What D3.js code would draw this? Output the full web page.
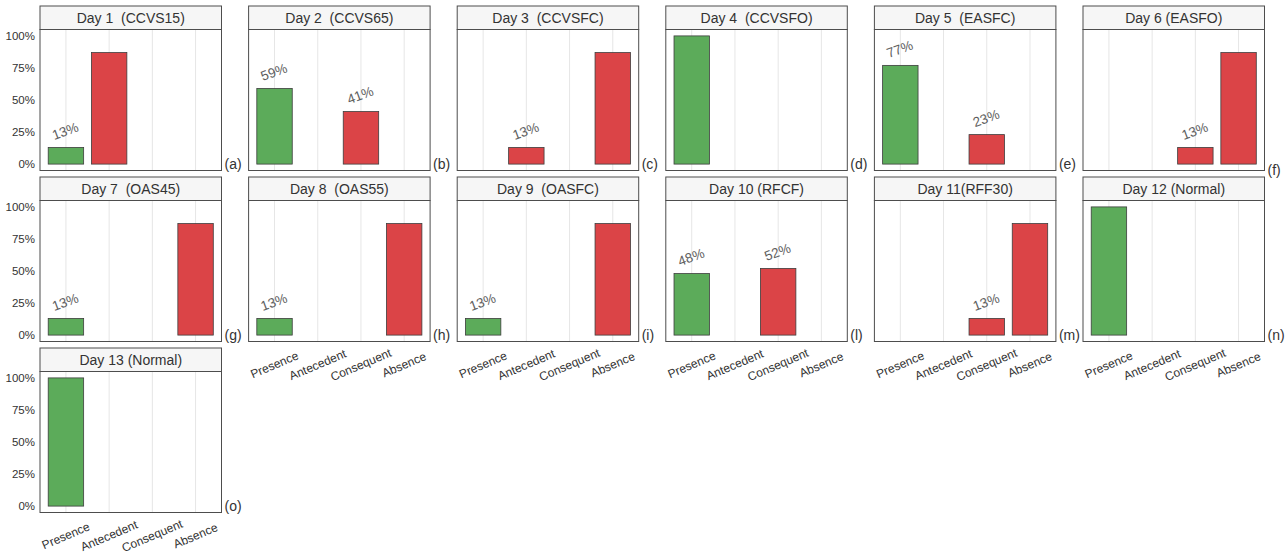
<!DOCTYPE html>
<html>
<head>
<meta charset="utf-8">
<script src="https://cdn.jsdelivr.net/npm/d3@7"></script>
<style>
  html, body { margin: 0; padding: 0; background: #fff; }
  svg { display: block; font-family: "Liberation Sans", Arial, sans-serif; }
</style>
</head>
<body>
<svg id="chart" width="1288" height="555"></svg>
<script>
// ---- data ----
const categories = ["Presence", "Antecedent", "Consequent", "Absence"];
const panelTitles = [
  "Day 1  (CCVS15)", "Day 2  (CCVS65)", "Day 3  (CCVSFC)", "Day 4  (CCVSFO)",
  "Day 5  (EASFC)", "Day 6 (EASFO)", "Day 7  (OAS45)", "Day 8  (OAS55)",
  "Day 9  (OASFC)", "Day 10 (RFCF)", "Day 11(RFF30)", "Day 12 (Normal)", "Day 13 (Normal)"
];
const panelTags = ["(a)","(b)","(c)","(d)","(e)","(f)","(g)","(h)","(i)","(l)","(m)","(n)","(o)"];
// percentages per category: Presence, Antecedent, Consequent, Absence
const presence   = [13, 59, 0, 100, 77, 0, 13, 13, 13, 48, 0, 100, 100];
const antecedent = [87, 0, 13, 0, 0, 0, 0, 0, 0, 0, 0, 0, 0];
const consequent = [0, 41, 0, 0, 23, 13, 0, 0, 0, 52, 13, 0, 0];
const absence    = [0, 0, 87, 0, 0, 87, 87, 87, 87, 0, 87, 0, 0];
// which bars carry a percentage label (per day, per category)
const labelled = [
  [1,0,0,0],[1,0,1,0],[0,1,0,0],[0,0,0,0],[1,0,1,0],[0,0,1,0],[1,0,0,0],
  [1,0,0,0],[1,0,0,0],[1,0,1,0],[0,0,1,0],[0,0,0,0],[0,0,0,0]
];
const yTicks = [0, 25, 50, 75, 100];
const yTickLabels = ["0%", "25%", "50%", "75%", "100%"];

// ---- layout ----
const nCols = 6;
const x0 = 40, colPitch = 208.6, panelW = 181.5;
const y0 = 6, rowPitch = 171, stripH = 23.5, plotH = 141;
const green = "#5cab5a", red = "#db4447";

const svg = d3.select("#chart");
const series = [presence, antecedent, consequent, absence];
const nPanels = panelTitles.length;

for (let i = 0; i < nPanels; i++) {
  const col = i % nCols, row = Math.floor(i / nCols);
  const left = x0 + col * colPitch;
  const top = y0 + row * rowPitch;
  const plotTop = top + stripH;
  const plotBottom = plotTop + plotH;

  const x = d3.scalePoint().domain(categories).range([left, left + panelW]).padding(0.6);
  const y = d3.scaleLinear().domain([-5, 105]).range([plotBottom, plotTop]);
  const bw = x.step() * 0.82;

  const g = svg.append("g");

  g.append("rect").attr("x", left).attr("y", plotTop).attr("width", panelW).attr("height", plotH)
    .attr("fill", "#fff");

  g.selectAll(".grid").data(categories).enter().append("line")
    .attr("x1", d => x(d)).attr("x2", d => x(d))
    .attr("y1", plotTop).attr("y2", plotBottom)
    .attr("stroke", "#e6e6e6").attr("stroke-width", 1);

  const data = categories.map((c, k) => ({ cat: c, k, v: series[k][i], lab: labelled[i][k] }))
    .filter(d => d.v > 0);

  g.selectAll(".bar").data(data).enter().append("rect")
    .attr("x", d => x(d.cat) - bw / 2)
    .attr("y", d => y(d.v))
    .attr("width", bw)
    .attr("height", d => y(0) - y(d.v))
    .attr("fill", d => d.k === 0 ? green : red)
    .attr("stroke", "#3d3d3d").attr("stroke-width", 0.8);

  g.selectAll(".lab").data(data.filter(d => d.lab)).enter().append("text")
    .attr("transform", d => `translate(${x(d.cat) + 1},${y(d.v) - 12}) rotate(-20)`)
    .attr("text-anchor", "middle")
    .attr("font-size", 13.5).attr("fill", "#5e5e5e")
    .text(d => d.v + "%");

  g.append("rect").attr("x", left).attr("y", plotTop).attr("width", panelW).attr("height", plotH)
    .attr("fill", "none").attr("stroke", "#4d4d4d").attr("stroke-width", 1);

  g.append("rect").attr("x", left).attr("y", top).attr("width", panelW).attr("height", stripH)
    .attr("fill", "#f6f6f6").attr("stroke", "#4d4d4d").attr("stroke-width", 1);
  g.append("text").attr("x", left + panelW / 2).attr("y", top + stripH / 2 + 5)
    .attr("text-anchor", "middle").attr("font-size", 14).attr("fill", "#333")
    .style("white-space", "pre")
    .text(panelTitles[i]);

  g.append("text").attr("x", left + panelW + 3).attr("y", plotBottom - 2 + (i === 5 ? 6 : 0))
    .attr("font-size", 14).attr("fill", "#333")
    .text(panelTags[i]);

  if (col === 0) {
    const ax = d3.axisLeft(y).tickValues(yTicks).tickSize(0).tickPadding(5)
      .tickFormat((d, j) => yTickLabels[j]);
    const ag = g.append("g").attr("transform", `translate(${left},0)`).call(ax);
    ag.select(".domain").remove();
    ag.selectAll("text").attr("font-size", 11.5).attr("fill", "#333")
      .attr("font-family", "Liberation Sans, Arial, sans-serif");
  }

  const isBottom = (i + nCols >= nPanels);
  if (isBottom) {
    const ax = d3.axisBottom(x).tickSize(0).tickPadding(0);
    const ag = g.append("g").attr("transform", `translate(0,${plotBottom})`).call(ax);
    ag.select(".domain").remove();
    ag.selectAll("text")
      .attr("y", 0).attr("dy", 0)
      .attr("transform", d => `translate(1,27) rotate(-23)`)
      .attr("text-anchor", "middle")
      .attr("font-size", 12).attr("fill", "#333")
      .attr("font-family", "Liberation Sans, Arial, sans-serif");
  }
}
</script>
</body>
</html>
